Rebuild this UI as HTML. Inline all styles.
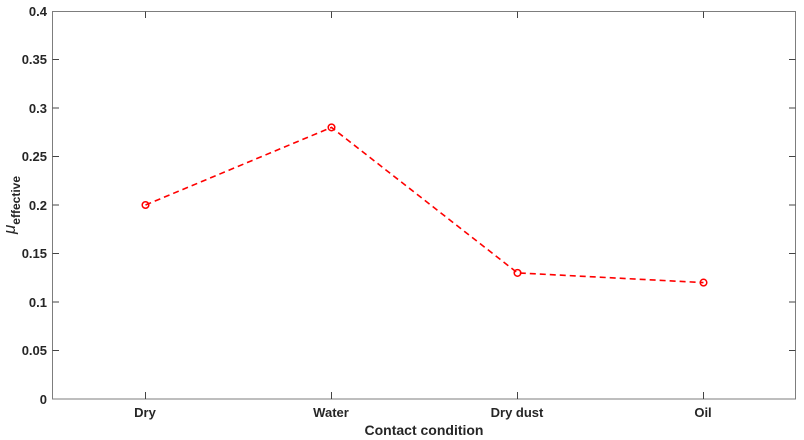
<!DOCTYPE html><html><head><style>body{margin:0;background:#fff}svg{display:block}</style></head><body>
<svg width="804" height="440" xmlns="http://www.w3.org/2000/svg" font-family="Liberation Sans, Arial, sans-serif" font-weight="bold">
<rect x="52.5" y="11.5" width="743" height="387.5" fill="none" stroke="#262626" stroke-opacity="0.6" stroke-width="1"/>
<g stroke="#444" stroke-width="1">
<line x1="145.5" y1="399" x2="145.5" y2="392"/><line x1="331.5" y1="399" x2="331.5" y2="392"/><line x1="517.5" y1="399" x2="517.5" y2="392"/><line x1="703.5" y1="399" x2="703.5" y2="392"/>
<line x1="145.5" y1="11.5" x2="145.5" y2="18"/><line x1="331.5" y1="11.5" x2="331.5" y2="18"/><line x1="517.5" y1="11.5" x2="517.5" y2="18"/><line x1="703.5" y1="11.5" x2="703.5" y2="18"/>
<line x1="52.5" y1="350.5" x2="59" y2="350.5"/><line x1="52.5" y1="302" x2="59" y2="302"/><line x1="52.5" y1="253.5" x2="59" y2="253.5"/><line x1="52.5" y1="205" x2="59" y2="205"/><line x1="52.5" y1="156.5" x2="59" y2="156.5"/><line x1="52.5" y1="108" x2="59" y2="108"/><line x1="52.5" y1="59.5" x2="59" y2="59.5"/>
<line x1="795.5" y1="350.5" x2="789" y2="350.5"/><line x1="795.5" y1="302" x2="789" y2="302"/><line x1="795.5" y1="253.5" x2="789" y2="253.5"/><line x1="795.5" y1="205" x2="789" y2="205"/><line x1="795.5" y1="156.5" x2="789" y2="156.5"/><line x1="795.5" y1="108" x2="789" y2="108"/><line x1="795.5" y1="59.5" x2="789" y2="59.5"/>
</g>
<g font-size="13" fill="#262626" text-anchor="end">
<text x="47" y="404">0</text><text x="47" y="355">0.05</text><text x="47" y="307">0.1</text><text x="47" y="258">0.15</text><text x="47" y="210">0.2</text><text x="47" y="161">0.25</text><text x="47" y="113">0.3</text><text x="47" y="64">0.35</text><text x="47" y="16">0.4</text>
</g>
<g font-size="13" fill="#262626" text-anchor="middle">
<text x="145" y="417">Dry</text><text x="331" y="417">Water</text><text x="517" y="417">Dry dust</text><text x="703" y="417">Oil</text>
<text x="424" y="435" font-size="14">Contact condition</text>
</g>
<text transform="translate(15,205) rotate(-90)" text-anchor="middle" fill="#262626" font-size="17"><tspan font-style="italic" font-weight="normal">μ</tspan><tspan font-size="12" dy="5">effective</tspan></text>
<polyline points="145.5,205 331.5,127.4 517.5,272.9 703.5,282.6" fill="none" stroke="#f00" stroke-width="1.6" stroke-dasharray="6,4"/>
<g fill="none" stroke="#f00" stroke-width="1.5">
<circle cx="145.5" cy="205" r="3.3"/><circle cx="331.5" cy="127.4" r="3.3"/><circle cx="517.5" cy="272.9" r="3.3"/><circle cx="703.5" cy="282.6" r="3.3"/>
</g>
</svg></body></html>
